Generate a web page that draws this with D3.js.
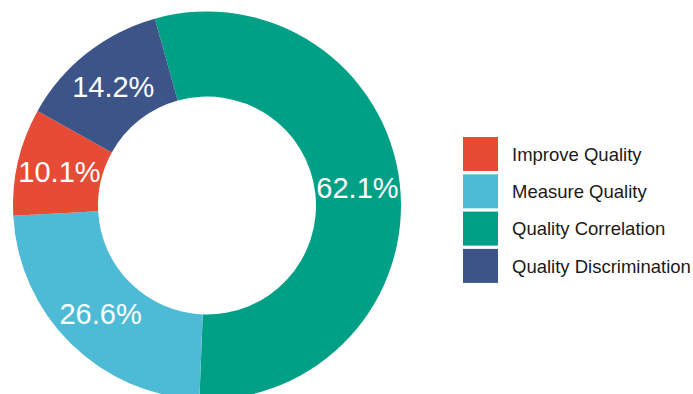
<!DOCTYPE html>
<html>
<head>
<meta charset="utf-8">
<script src="https://cdn.jsdelivr.net/npm/d3@7/dist/d3.min.js"></script>
<style>
  html, body { margin: 0; padding: 0; background: #fff; }
  svg { display: block; }
</style>
</head>
<body>
<svg id="chart" width="693" height="394"></svg>
<script>
// Legend order of the categories
const categories = ["Improve Quality", "Measure Quality", "Quality Correlation", "Quality Discrimination"];
// Percent shown on each slice
const values = [10.1, 26.6, 62.1, 14.2];
const colors = ["#E64B35", "#4DBBD5", "#00A087", "#3C5488"];
// Clockwise drawing order of the slices (indices into categories)
const sliceOrder = [2, 1, 0, 3];

const svg = d3.select("#chart");

const cx = 207, cy = 205.5;
const outerR = 194, innerR = 109;

const data = sliceOrder.map(i => ({ name: categories[i], value: values[i], color: colors[i] }));

const startDeg = -15.6;
const pie = d3.pie()
  .sort(null)
  .value(d => d.value)
  .startAngle(startDeg * Math.PI / 180)
  .endAngle(startDeg * Math.PI / 180 + 2 * Math.PI);

const arc = d3.arc().innerRadius(innerR).outerRadius(outerR);

const g = svg.append("g").attr("transform", `translate(${cx},${cy})`);

const arcs = pie(data);

g.selectAll("path.slice")
  .data(arcs)
  .join("path")
  .attr("class", "slice")
  .attr("d", arc)
  .attr("fill", d => d.data.color);

g.selectAll("text.pct")
  .data(arcs)
  .join("text")
  .attr("class", "pct")
  .attr("transform", d => `translate(${arc.centroid(d)})`)
  .attr("text-anchor", "middle")
  .attr("dy", "0.36em")
  .attr("fill", "#ffffff")
  .style("font-family", "'Liberation Sans', Arial, sans-serif")
  .style("font-size", "29px")
  .text(d => d.data.value.toFixed(1) + "%");

// Legend
const legend = svg.append("g").attr("transform", "translate(463,137)");
const keyW = 35, keyH = 34, pitch = 37.3;

const items = legend.selectAll("g.item")
  .data(categories)
  .join("g")
  .attr("class", "item")
  .attr("transform", (d, i) => `translate(0,${i * pitch})`);

items.append("rect")
  .attr("width", keyW)
  .attr("height", keyH)
  .attr("fill", (d, i) => colors[i]);

items.append("text")
  .attr("x", 49)
  .attr("y", keyH / 2)
  .attr("dy", "0.36em")
  .attr("fill", "#1a1a1a")
  .style("font-family", "'Liberation Sans', Arial, sans-serif")
  .style("font-size", "18.5px")
  .text(d => d);
</script>
</body>
</html>
